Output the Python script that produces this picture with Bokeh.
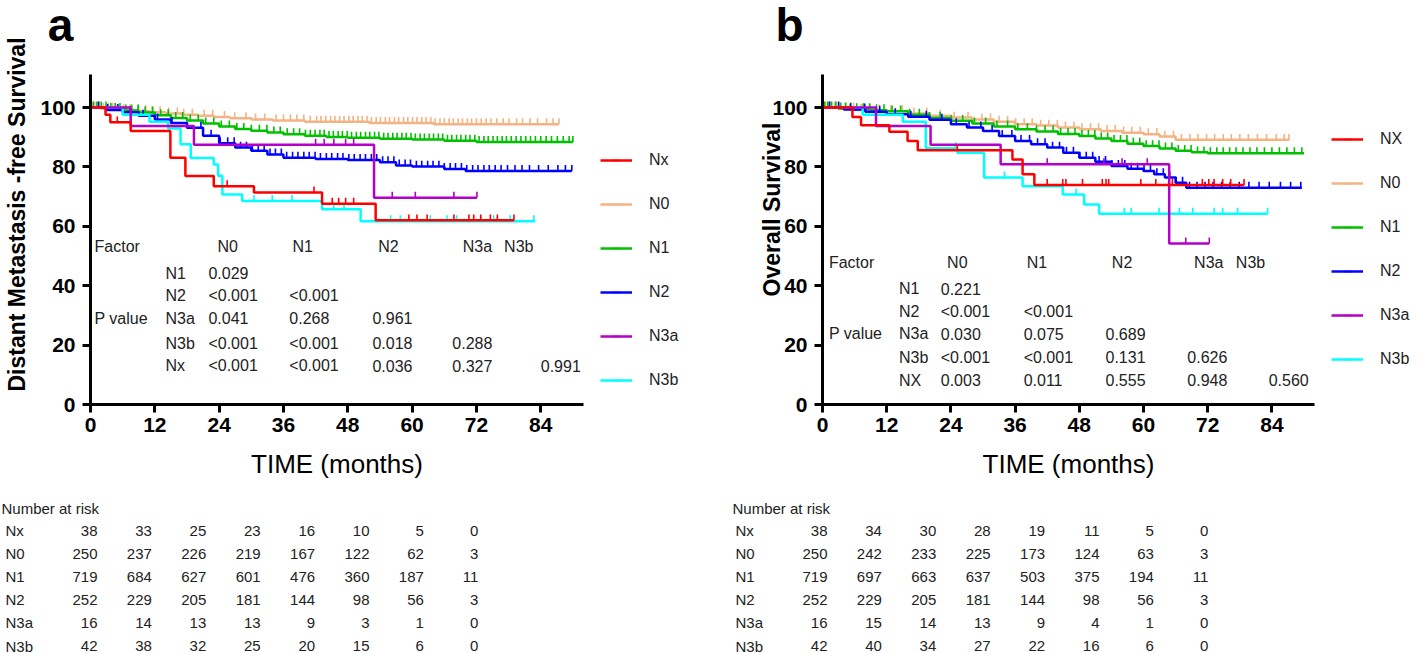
import numpy as np
from bokeh.plotting import figure
from bokeh.models import Range1d, Label, Legend, LegendItem, FixedTicker
from bokeh.layouts import row
from bokeh.embed import file_html
from bokeh.resources import INLINE
from bokeh.core.properties import value

FONT = "Liberation Sans"

# ---------------- data ----------------
groups = ["Nx", "N0", "N1", "N2", "N3a", "N3b"]
colors = {"Nx": "#ff0000", "N0": "#f4b383", "N1": "#00c000",
          "N2": "#0000ff", "N3a": "#b400c8", "N3b": "#00ffff"}
x_ticks = [0, 12, 24, 36, 48, 60, 72, 84]
y_ticks = [0, 20, 40, 60, 80, 100]

# Panel a: Distant metastasis-free survival
a_nx_t = [0, 2.8, 3.7, 7.5, 14.9, 17.7, 23.0, 30.5, 43.2, 53.2, 79.0]
a_nx_s = [100, 97.6, 95.0, 92.1, 83.1, 76.9, 73.5, 71.4, 67.6, 62.0, 62.0]
a_nx_c = [5.0, 25.5, 41.7, 45.1, 46.3, 47.6, 49.1, 59.4, 60.9, 62.8, 67.8, 70.6, 71.5, 72.8, 74.6, 75.9, 79.0]

a_n0_t = [0, 2, 5, 8, 11, 14, 17, 20, 23, 26, 30, 34, 40, 52, 64, 87.4]
a_n0_s = [100, 99.6, 99.2, 98.8, 98.4, 98.0, 97.6, 97.2, 96.8, 96.4, 96.0, 95.6, 95.2, 94.8, 94.4, 94.4]
a_n0_c = [0.8, 1.6, 2.4, 3.3, 4.1, 5.0, 6.2, 7.4, 8.8, 10.3, 11.5, 13.0, 14.6, 16.2, 17.4, 19.0, 21.2,
          22.8, 25.0, 26.9, 29.0, 30.8, 32.5, 34.6, 36.0, 37.3, 38.5, 39.8, 41.0, 42.2, 43.0, 43.9,
          44.8, 45.6, 46.5, 47.3, 48.2, 49.0, 49.9, 50.7, 51.6, 52.4, 53.3, 54.1, 55.0, 55.8, 56.7,
          57.5, 58.4, 59.2, 60.1, 60.9, 61.8, 62.6, 63.5, 64.3, 65.2, 66.0, 66.9, 67.7, 68.6, 69.4,
          70.3, 71.1, 72.0, 72.9, 73.8, 74.7, 75.8, 77.0, 78.1, 79.5, 80.6, 82.0, 83.4, 85.1, 86.3, 87.4]

a_n1_t = [0, 3, 6, 9, 12, 15, 18, 21, 24, 27, 30, 33, 36, 40, 44, 48, 54, 60, 66, 72, 90]
a_n1_s = [100, 99.5, 99.0, 98.3, 97.4, 96.5, 95.6, 94.6, 93.6, 92.8, 92.2, 91.6, 91.0, 90.5,
          90.1, 89.8, 89.5, 89.2, 88.8, 88.4, 88.4]
a_n1_c = [0.5, 1.2, 2.0, 2.9, 3.8, 4.6, 5.5, 6.6, 7.7, 8.9, 10.2, 11.6, 13.1, 14.5, 15.9, 17.2, 18.6,
          20.1, 21.5, 23.0, 24.4, 25.9, 27.3, 28.6, 30.0, 31.5, 32.9, 34.2, 35.4, 36.7, 37.9, 39.0,
          40.1, 41.0, 41.9, 42.8, 43.6, 44.5, 45.3, 46.2, 47.0, 47.9, 48.7, 49.6, 50.4, 51.3, 52.1,
          53.0, 53.8, 54.7, 55.5, 56.4, 57.2, 58.1, 58.9, 59.8, 60.6, 61.5, 62.3, 63.2, 64.0, 64.9,
          65.7, 66.6, 67.4, 68.3, 69.1, 70.0, 70.8, 71.7, 72.5, 73.4, 74.2, 75.1, 75.9, 76.8, 77.6,
          78.5, 79.4, 80.3, 81.2, 82.1, 83.0, 84.0, 85.0, 86.0, 87.1, 88.2, 89.3, 90.0]

a_n2_t = [0, 3, 6, 9, 12, 15, 18, 21, 24, 27, 30, 33, 36, 42, 48, 54, 57, 60, 66, 70, 89.8]
a_n2_s = [100, 99.2, 98.4, 97.2, 96.0, 94.8, 93.2, 90.5, 88.0, 86.5, 85.4, 84.2, 83.1, 82.7,
          82.3, 81.6, 80.5, 80.1, 79.3, 78.6, 78.6]
a_n2_c = [1.5, 3.2, 5.1, 7.4, 9.8, 12.5, 15.2, 18.0, 20.6, 22.5, 24.2, 25.6, 26.8, 28.0, 29.1, 30.2,
          31.3, 32.4, 33.5, 34.5, 35.6, 36.6, 37.7, 38.7, 39.8, 40.8, 41.9, 42.9, 44.0, 45.0, 46.1,
          47.1, 48.2, 49.2, 50.3, 51.3, 52.4, 53.4, 54.5, 55.5, 56.6, 57.6, 58.7, 59.7, 60.8, 61.8,
          62.9, 63.9, 65.0, 66.0, 67.1, 68.1, 69.2, 70.2, 71.3, 72.3, 73.4, 74.4, 75.5, 76.6, 77.8,
          79.2, 80.5, 81.9, 83.6, 85.4, 87.2, 88.6, 89.8]

a_n3a_t = [0, 7.5, 19.3, 52.9, 72.1]
a_n3a_s = [100, 93.75, 87.5, 69.6, 69.6]
a_n3a_c = [42.0, 43.6, 45.4, 47.6, 49.1, 56.3, 60.6, 67.8, 72.1]

a_n3b_t = [0, 6.0, 11.0, 14.5, 16.8, 18.7, 23.0, 23.8, 24.6, 28.3, 43.2, 50.4, 83.0]
a_n3b_s = [100, 97.6, 95.2, 92.9, 87.6, 83.0, 80.8, 77.0, 70.7, 68.5, 65.7, 61.7, 61.7]
a_n3b_c = [30.5, 33.9, 37.6, 45.4, 47.3, 56.0, 57.8, 63.4, 66.5, 68.3, 72.8, 75.2, 78.3, 82.7]

# Panel b: Overall survival
b_nx_t = [0, 5.6, 7.2, 12.5, 15.9, 17.8, 35.5, 37.4, 39.6, 78.8]
b_nx_s = [100, 96.8, 94.0, 91.8, 88.7, 85.6, 82.5, 77.5, 73.9, 73.9]
b_nx_c = [25.2, 42.0, 44.9, 45.5, 48.6, 52.3, 53.0, 53.5, 59.5, 62.3, 65.4, 71.0, 72.2, 73.2, 74.8, 76.3, 78.8]

b_n0_t = [0, 3, 6, 9, 12, 16, 20, 24, 28, 32, 36, 40, 44, 48, 52, 56, 60, 63, 66, 87.2]
b_n0_s = [100, 99.6, 99.2, 99.0, 98.8, 98.0, 97.2, 96.6, 96.0, 95.2, 94.4, 93.9, 93.3, 92.7,
          92.1, 91.5, 91.0, 90.2, 89.1, 89.1]
b_n0_c = [0.6, 1.4, 2.3, 3.1, 4.4, 5.8, 7.2, 8.9, 10.6, 12.8, 14.9, 17.1, 19.5, 22.0, 24.6, 27.2,
          29.8, 31.4, 33.0, 34.6, 36.1, 37.7, 39.2, 40.8, 42.3, 43.9, 45.4, 47.0, 48.5, 50.1, 51.6,
          53.2, 54.7, 56.3, 57.8, 59.4, 60.9, 62.5, 64.0, 65.6, 67.1, 68.7, 70.2, 71.8, 73.3, 74.9,
          76.4, 78.0, 79.6, 81.3, 83.0, 84.8, 86.3, 87.2]

b_n1_t = [0, 3, 6, 9, 12, 16, 20, 24, 28, 32, 36, 40, 44, 48, 51, 54, 57, 60, 63, 66, 69, 72, 90]
b_n1_s = [100, 99.7, 99.4, 99.1, 98.7, 97.6, 96.5, 95.5, 94.6, 93.6, 92.7, 91.9, 91.1, 90.4,
          89.6, 88.7, 87.8, 87.0, 86.2, 85.4, 84.9, 84.6, 84.6]
b_n1_c = [0.4, 1.0, 1.7, 2.5, 3.4, 4.3, 5.3, 6.4, 7.6, 8.8, 10.1, 11.5, 13.0, 14.6, 16.3, 18.1,
          20.0, 22.0, 24.1, 26.2, 28.4, 30.5, 32.6, 34.6, 36.5, 38.3, 40.0, 41.6, 43.1, 44.5, 45.9,
          47.2, 48.5, 49.7, 50.9, 52.1, 53.3, 54.5, 55.7, 56.9, 58.1, 59.3, 60.5, 61.7, 62.9, 64.1,
          65.3, 66.5, 67.7, 68.9, 70.1, 71.3, 72.5, 73.7, 74.9, 76.1, 77.3, 78.6, 79.9, 81.2, 82.6,
          84.0, 85.4, 86.8, 88.2, 89.6]

b_n2_t = [0, 4, 8, 12, 16, 20, 24, 27, 30, 33, 36, 39, 42, 45, 48, 51, 54, 57, 60, 62, 64, 66, 68, 89.6]
b_n2_s = [100, 99.3, 98.6, 97.7, 96.9, 95.9, 94.4, 93.3, 92.1, 90.4, 88.7, 87.6, 86.5, 84.8,
          83.1, 81.7, 80.3, 79.4, 78.6, 77.5, 76.4, 74.7, 73.0, 73.0]
b_n2_c = [1.3, 3.0, 5.2, 7.9, 10.7, 13.6, 16.5, 19.4, 22.3, 25.0, 27.4, 29.6, 31.7, 33.6, 35.4,
          37.1, 38.7, 40.2, 41.6, 43.0, 44.3, 45.6, 46.9, 48.1, 49.3, 50.5, 51.7, 52.9, 54.1, 55.3,
          56.5, 57.7, 58.9, 60.1, 61.3, 62.5, 63.7, 64.9, 66.1, 67.3, 68.6, 70.0, 71.5, 73.0, 74.6,
          76.2, 77.9, 79.7, 81.6, 83.5, 85.6, 87.5, 89.4]

b_n3a_t = [0, 10.0, 20.2, 33.3, 64.8, 72.3]
b_n3a_s = [100, 93.75, 87.5, 80.9, 54.2, 54.2]
b_n3a_c = [42.0, 52.6, 56.0, 60.7, 67.9, 72.3]

b_n3b_t = [0, 7.5, 15.0, 19.3, 25.2, 30.2, 37.4, 44.9, 48.9, 51.7, 83.2]
b_n3b_s = [100, 97.6, 95.2, 86.3, 84.8, 76.4, 73.5, 70.7, 67.3, 64.2, 64.2]
b_n3b_c = [24.9, 34.0, 47.4, 56.4, 57.7, 62.9, 66.7, 69.2, 73.2, 74.8, 77.6, 83.2]

# P-value tables
pv_cols = ["N0", "N1", "N2", "N3a", "N3b"]
a_pv_rows = ["N1", "N2", "N3a", "N3b", "Nx"]
a_pv = [["0.029"],
        ["<0.001", "<0.001"],
        ["0.041", "0.268", "0.961"],
        ["<0.001", "<0.001", "0.018", "0.288"],
        ["<0.001", "<0.001", "0.036", "0.327", "0.991"]]
b_pv_rows = ["N1", "N2", "N3a", "N3b", "NX"]
b_pv = [["0.221"],
        ["<0.001", "<0.001"],
        ["0.030", "0.075", "0.689"],
        ["<0.001", "<0.001", "0.131", "0.626"],
        ["0.003", "0.011", "0.555", "0.948", "0.560"]]

# Number at risk
risk_rows = ["Nx", "N0", "N1", "N2", "N3a", "N3b"]
a_risk = [[38, 33, 25, 23, 16, 10, 5, 0],
          [250, 237, 226, 219, 167, 122, 62, 3],
          [719, 684, 627, 601, 476, 360, 187, 11],
          [252, 229, 205, 181, 144, 98, 56, 3],
          [16, 14, 13, 13, 9, 3, 1, 0],
          [42, 38, 32, 25, 20, 15, 6, 0]]
b_risk = [[38, 34, 30, 28, 19, 11, 5, 0],
          [250, 242, 233, 225, 173, 124, 63, 3],
          [719, 697, 663, 637, 503, 375, 194, 11],
          [252, 229, 205, 181, 144, 98, 56, 3],
          [16, 15, 14, 13, 9, 4, 1, 0],
          [42, 40, 34, 27, 22, 16, 6, 0]]

a_series = {"Nx": (a_nx_t, a_nx_s, a_nx_c), "N0": (a_n0_t, a_n0_s, a_n0_c),
            "N1": (a_n1_t, a_n1_s, a_n1_c), "N2": (a_n2_t, a_n2_s, a_n2_c),
            "N3a": (a_n3a_t, a_n3a_s, a_n3a_c), "N3b": (a_n3b_t, a_n3b_s, a_n3b_c)}
b_series = {"Nx": (b_nx_t, b_nx_s, b_nx_c), "N0": (b_n0_t, b_n0_s, b_n0_c),
            "N1": (b_n1_t, b_n1_s, b_n1_c), "N2": (b_n2_t, b_n2_s, b_n2_c),
            "N3a": (b_n3a_t, b_n3a_s, b_n3a_c), "N3b": (b_n3b_t, b_n3b_s, b_n3b_c)}

H = 653
Y0_PX, KY = 404.0, 2.97          # pixel row of survival 0, pixels per % survival


def km_panel(series, legend_labels, width, x0_px, kx, ylabel, ylabel_px, letter, letter_px,
             legend_px, pv_rows, pv, L, risk, risk_title_px, risk_lab_px, risk_col0_px):
    # linear maps from canvas pixels to data units
    X = lambda px: (px - x0_px) / kx
    Y = lambda py: (Y0_PX - py) / KY

    p = figure(width=width, height=H, x_range=Range1d(X(0), X(width)),
               y_range=Range1d(Y(H), Y(0)), toolbar_location=None, output_backend="svg",
               min_border=0, min_border_left=0, min_border_right=0,
               min_border_top=0, min_border_bottom=0)
    p.outline_line_color = None
    p.grid.visible = False
    p.background_fill_color = "white"
    p.border_fill_color = "white"

    for ax, ticks, bounds in ((p.xaxis, x_ticks, (0, 92)), (p.yaxis, y_ticks, (0, 111))):
        ax.fixed_location = 0
        ax.bounds = bounds
        ax.ticker = FixedTicker(ticks=ticks)
        ax.axis_line_width = 3
        ax.axis_line_color = "black"
        ax.major_tick_line_width = 3
        ax.major_tick_line_color = "black"
        ax.major_tick_out = 8
        ax.major_tick_in = 0
        ax.minor_tick_line_color = None
        ax.major_label_text_font = FONT
        ax.major_label_text_font_size = "21px"
        ax.major_label_text_font_style = "bold"
        ax.major_label_text_color = "black"
    p.yaxis.major_label_standoff = 7
    p.xaxis.major_label_standoff = 5
    p.xaxis.axis_label = "TIME (months)"
    p.xaxis.axis_label_text_font = FONT
    p.xaxis.axis_label_text_font_size = "26px"
    p.xaxis.axis_label_text_font_style = "normal"
    p.xaxis.axis_label_text_color = "black"
    p.xaxis.axis_label_standoff = 14

    renderers = {}
    for g in ["N0", "N1", "N2", "N3b", "N3a", "Nx"]:
        t, s, c = series[g]
        t = np.asarray(t, float)
        s = np.asarray(s, float)
        c = np.asarray(c, float)
        idx = np.clip(np.searchsorted(t, c, side="right") - 1, 0, len(s) - 1)
        cy = s[idx] + 1.0
        lr = p.step(t, s, mode="after", line_color=colors[g], line_width=2.5)
        cr = p.scatter(c, cy, marker="dash", angle=np.pi / 2, size=6,
                       line_color=colors[g], line_width=1.6)
        renderers[g] = [lr, cr]

    items = [LegendItem(label=lab, renderers=renderers[g]) for g, lab in zip(groups, legend_labels)]
    leg_h = 6 * 20 + 5 * 24
    legend = Legend(items=items, location=(legend_px[0], H - (legend_px[1] + leg_h)),
                    orientation="vertical", glyph_width=32, glyph_height=20, spacing=24,
                    label_standoff=17, padding=0, margin=0, border_line_color=None,
                    background_fill_alpha=0, label_text_font=FONT, label_text_font_size="16px",
                    label_text_color="#222222", label_height=20)
    p.add_layout(legend)

    p.add_layout(Label(x=X(ylabel_px[0]), y=Y(ylabel_px[1]), text=ylabel, angle=np.pi / 2,
                       text_align="center", text_baseline="middle", text_font=FONT,
                       text_font_size="23px", text_font_style="bold", text_color="black"))
    p.add_layout(Label(x=X(letter_px[0]), y=Y(letter_px[1]), text=letter,
                       text_align="center", text_baseline="middle", text_font=FONT,
                       text_font_size="46px", text_font_style="bold", text_color="black"))

    tf = value(FONT)
    txt = dict(text_font=tf, text_baseline="middle", text_color="#222222")
    # P value table (data units)
    p.text(x=[L["factor_x"]], y=[L["head_y"]], text=["Factor"], text_font_size="16px",
           text_align="left", **txt)
    p.text(x=L["head_x"], y=[L["head_y"]] * len(pv_cols), text=pv_cols, text_font_size="16px",
           text_align="center", **txt)
    p.text(x=[L["factor_x"]], y=[L["row_y"][2]], text=["P value"], text_font_size="16px",
           text_align="left", **txt)
    p.text(x=[L["rowlab_x"]] * len(pv_rows), y=L["row_y"], text=pv_rows, text_font_size="16px",
           text_align="left", **txt)
    xs, ys, ts = [], [], []
    for i, r in enumerate(pv):
        for j, v in enumerate(r):
            xs.append(L["val_x"][j])
            ys.append(L["row_y"][i])
            ts.append(v)
    p.text(x=xs, y=ys, text=ts, text_font_size="16px", text_align="left", **txt)

    # Number-at-risk table below the axis
    row_py = [530 + 23.1 * i for i in range(len(risk_rows))]
    p.text(x=[X(risk_title_px)], y=[Y(508)], text=["Number at risk"], text_font_size="15px",
           text_align="left", **txt)
    p.text(x=[X(risk_lab_px)] * len(risk_rows), y=[Y(v) for v in row_py], text=risk_rows,
           text_font_size="15px", text_align="left", **txt)
    xs, ys, ts = [], [], []
    for i, r in enumerate(risk):
        for j, v in enumerate(r):
            xs.append(X(risk_col0_px + 54.4 * j))
            ys.append(Y(row_py[i]))
            ts.append(str(v))
    p.text(x=xs, y=ys, text=ts, text_font_size="15px", text_align="right", **txt)
    return p


a_layout = {"factor_x": 0.75, "head_y": 53.2,
            "head_x": [25.6, 39.6, 55.6, 72.2, 79.9],
            "rowlab_x": 14.0, "val_x": [22.0, 37.1, 52.6, 67.5, 84.0],
            "row_y": [44.2, 36.7, 29.0, 20.6, 13.1]}
b_layout = {"factor_x": 1.2, "head_y": 47.9,
            "head_x": [25.2, 40.1, 56.0, 72.2, 80.0],
            "rowlab_x": 14.3, "val_x": [22.1, 37.6, 52.9, 68.2, 83.4],
            "row_y": [39.0, 31.3, 23.8, 15.9, 8.1]}

WA, WB = 709, 709
pa = km_panel(a_series, ["Nx", "N0", "N1", "N2", "N3a", "N3b"], WA, 90.0, 5.36,
              "Distant Metastasis -free Survival", (16, 214), "a", (60, 24), (600, 150),
              a_pv_rows, a_pv, a_layout, a_risk, 1, 5, 97)
pb = km_panel(b_series, ["NX", "N0", "N1", "N2", "N3a", "N3b"], WB, 822.0 - WA, 5.35,
              "Overall Survival", (771 - WA, 209), "b", (789 - WA, 24), (1331 - WA, 129),
              b_pv_rows, b_pv, b_layout, b_risk, 732 - WA, 735 - WA, 827 - WA)

layout = row(pa, pb, spacing=0)
open("out.html", "w").write(file_html(layout, INLINE))
